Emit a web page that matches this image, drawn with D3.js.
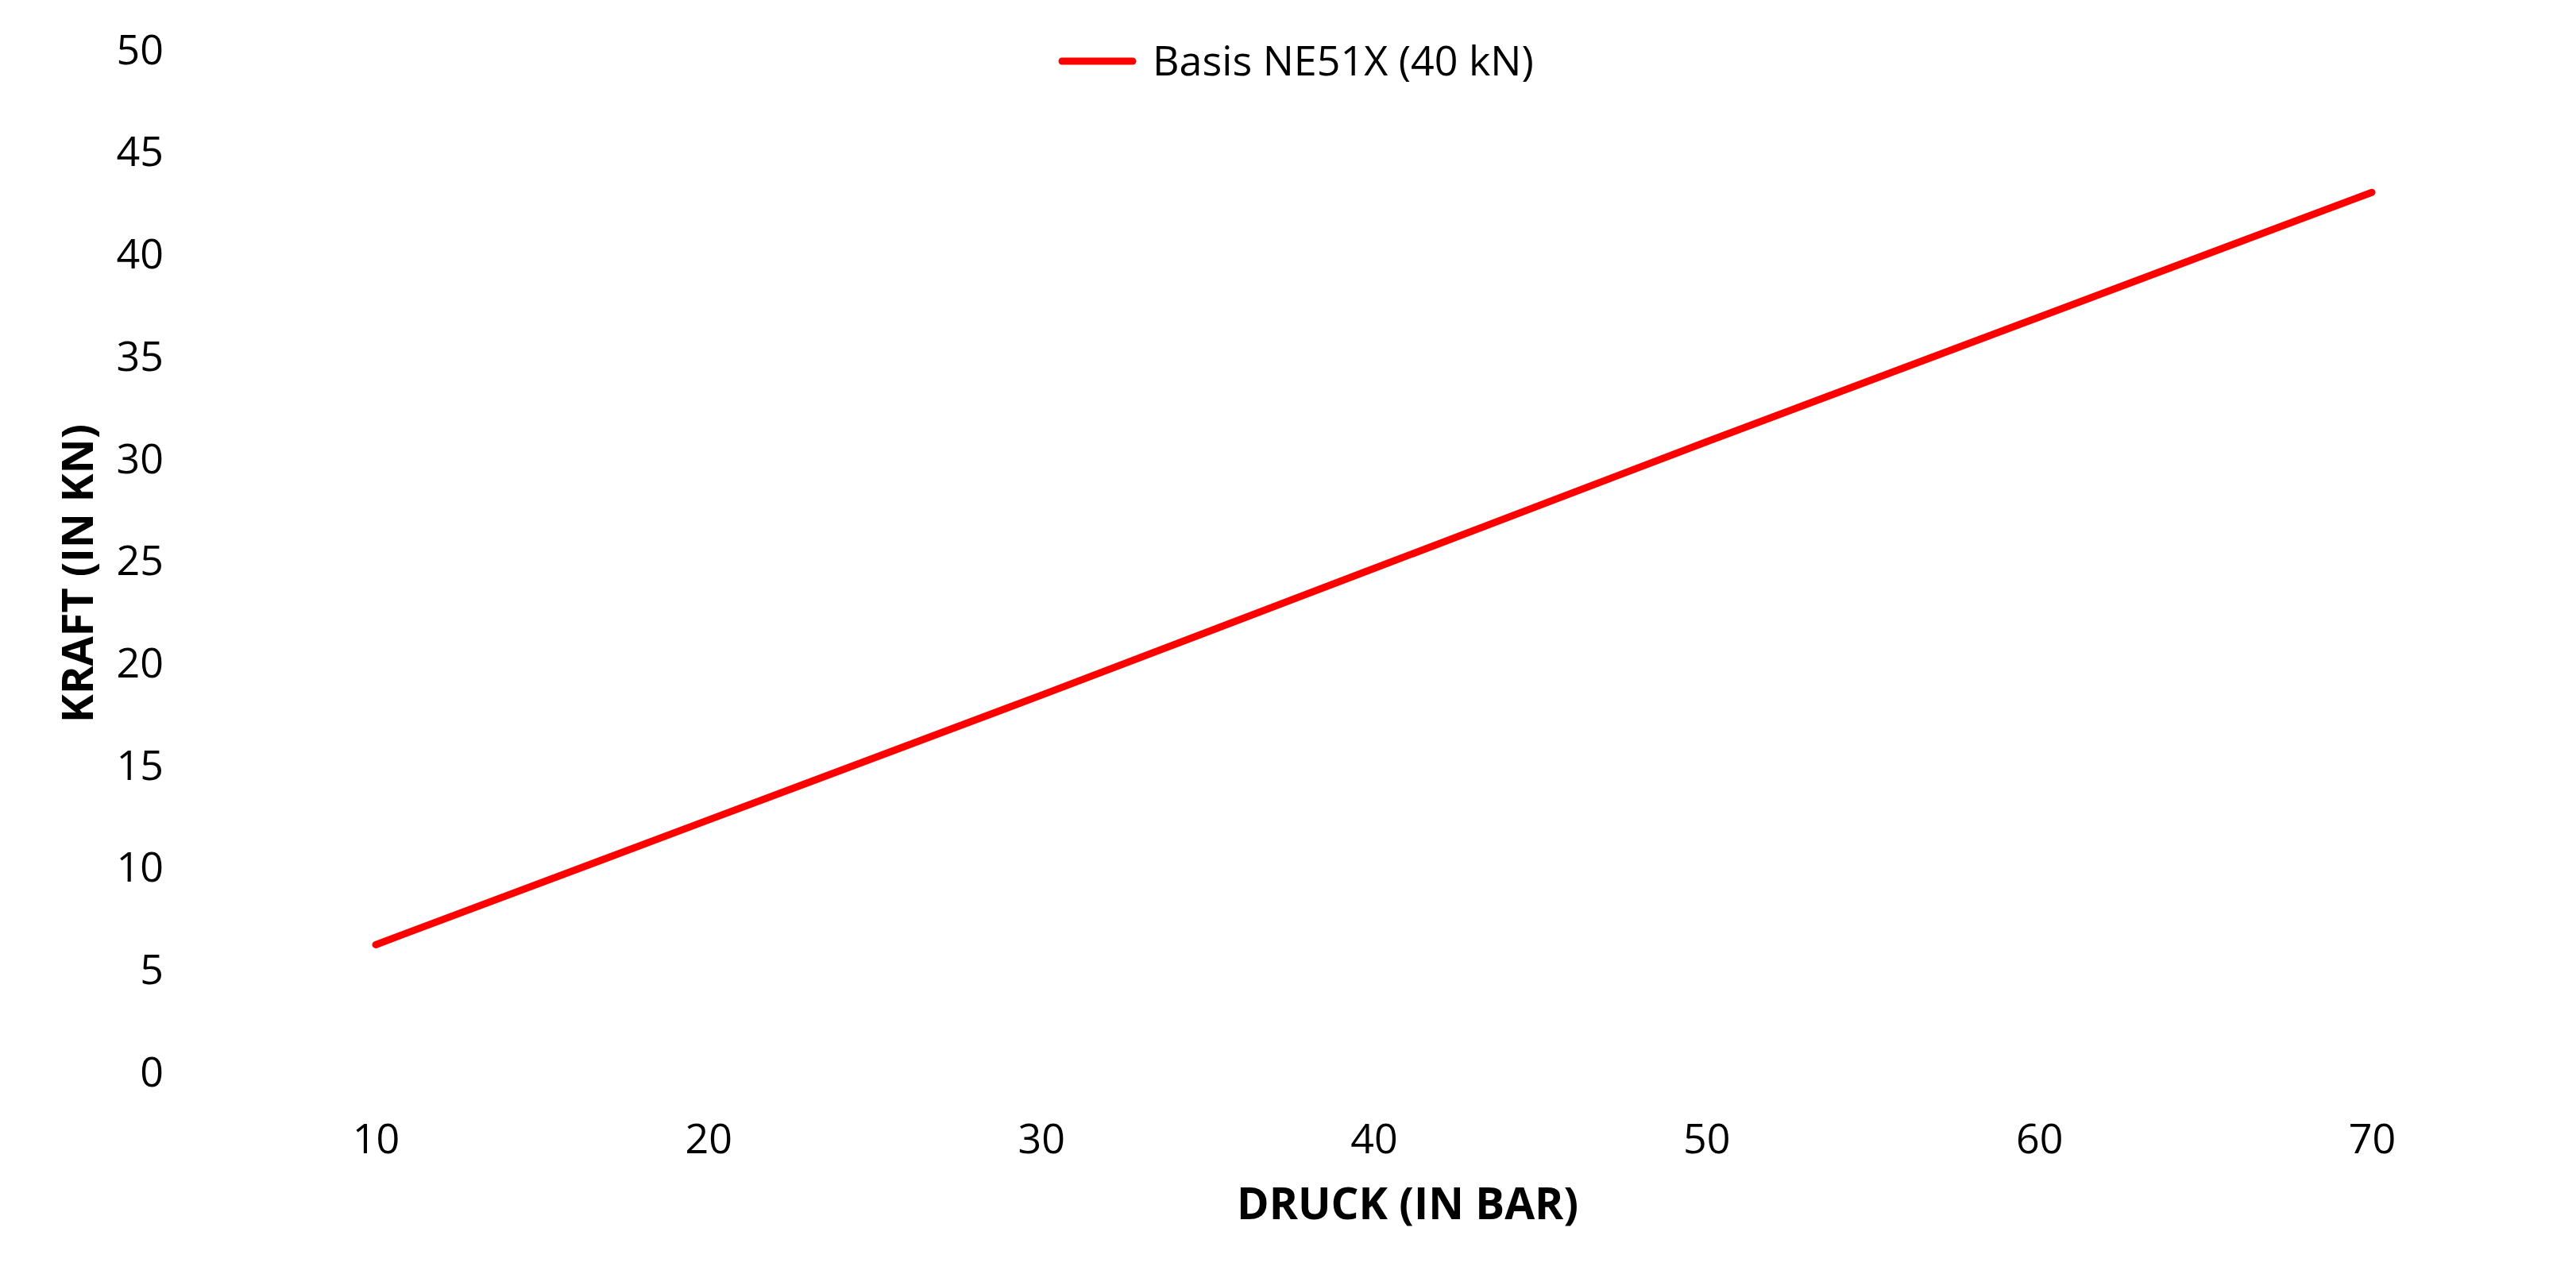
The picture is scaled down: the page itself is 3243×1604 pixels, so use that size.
<!DOCTYPE html>
<html>
<head>
<meta charset="utf-8">
<script src="https://cdn.jsdelivr.net/npm/d3@7"></script>
<style>
  html, body { margin: 0; padding: 0; background: #fff; }
  svg { display: block; font-family: "Open Sans", "Noto Sans", sans-serif; }
</style>
</head>
<body>
<svg id="chart" width="3243" height="1604"></svg>
<script>
// pressure (bar) and force (kN)
const druck = [10, 20, 30, 40, 50, 60, 70];
const kraft = [6.2, 12.3, 18.4, 24.6, 30.8, 36.9, 43.0];
const yTicks = [0, 5, 10, 15, 20, 25, 30, 35, 40, 45, 50];
const seriesName = "Basis NE51X (40 kN)";

const width = 3243, height = 1604;
const svg = d3.select("#chart");

const x = d3.scaleLinear().domain([10, 70]).range([473, 2986]);
const y = d3.scaleLinear().domain([0, 50]).range([1349, 62]);

// y axis labels
const yAxis = svg.append("g")
  .attr("transform", "translate(206,0)")
  .call(d3.axisLeft(y).tickValues(yTicks).tickSize(0).tickPadding(0));
yAxis.select(".domain").remove();
yAxis.selectAll("text")
  .attr("font-size", 52)
  .attr("font-family", "Open Sans, Noto Sans, sans-serif")
  .attr("fill", "#000")
  .attr("dy", "0.35em");

// x axis labels
const xAxis = svg.append("g")
  .attr("transform", "translate(0,1434)")
  .call(d3.axisBottom(x).tickValues(druck).tickSize(0).tickPadding(0));
xAxis.select(".domain").remove();
xAxis.selectAll("text")
  .attr("font-size", 52)
  .attr("font-family", "Open Sans, Noto Sans, sans-serif")
  .attr("fill", "#000")
  .attr("dy", "0.35em");

// axis titles
svg.append("text")
  .attr("x", 1772)
  .attr("y", 1516)
  .attr("text-anchor", "middle")
  .attr("dy", "0.35em")
  .attr("font-size", 55)
  .attr("font-weight", "bold")
  .text("DRUCK (IN BAR)");

svg.append("text")
  .attr("transform", "translate(98,722) rotate(-90)")
  .attr("text-anchor", "middle")
  .attr("dy", "0.35em")
  .attr("font-size", 54)
  .attr("font-weight", "bold")
  .text("KRAFT (IN KN)");

// the line
const line = d3.line()
  .x((d, i) => x(druck[i]))
  .y(d => y(d));

svg.append("path")
  .datum(kraft)
  .attr("d", line)
  .attr("fill", "none")
  .attr("stroke", "#ff0000")
  .attr("stroke-width", 9)
  .attr("stroke-linecap", "round")
  .attr("stroke-linejoin", "round");

// legend
const legend = svg.append("g").attr("transform", "translate(1337,77)");
legend.append("line")
  .attr("x1", 0).attr("x2", 89)
  .attr("stroke", "#ff0000")
  .attr("stroke-width", 9)
  .attr("stroke-linecap", "round");
legend.append("text")
  .attr("x", 114)
  .attr("dy", "0.35em")
  .attr("font-size", 52)
  .text(seriesName);
</script>
</body>
</html>
